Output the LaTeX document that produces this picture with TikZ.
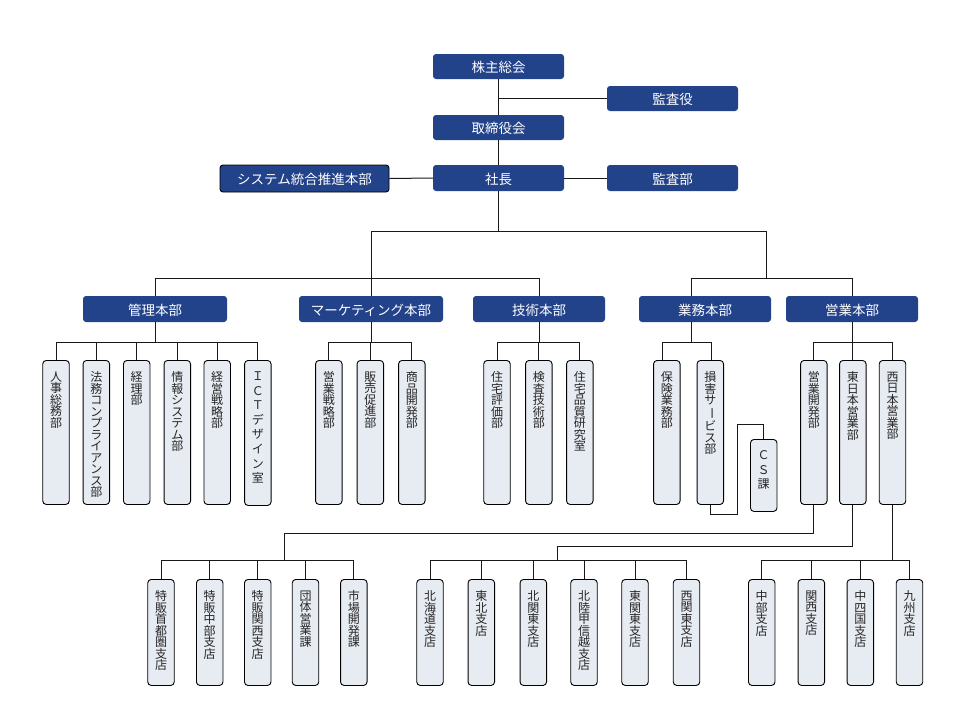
\documentclass[tikz,border=0pt]{standalone}
\usepackage{fontspec}
\usepackage{graphicx}
\setmainfont{Noto Sans CJK JP}
\definecolor{navy}{RGB}{34,66,138}
\definecolor{pale}{RGB}{231,235,242}
\newcommand\vbar{\rotatebox[origin=c]{-90}{ー}}
\newcommand\mkunit[6][]{%
  \node[sb,minimum height=#5] (#2) at (#3,#4) {};
  \node[vt,#1] (#2t) at ([yshift=-11.5pt]#2.north) {#6};}
\begin{document}
\begin{tikzpicture}[x=1pt,y=-1pt,
  hd/.style={rectangle,rounded corners=3pt,fill=navy,text=white,inner sep=0pt,
    text height=12pt,text depth=0pt,font=\fontsize{13.5}{15}\selectfont},
  sb/.style={rectangle,rounded corners=3.5pt,fill=pale,draw=black,line width=0.9pt,
    minimum width=26.5pt,inner sep=0pt,anchor=north},
  vt/.style={anchor=north,inner sep=0pt,align=center,text=black!85,
    font=\fontsize{12}{11.5}\selectfont},
  ln/.style={draw=black!90,line width=1pt}]
\useasboundingbox (0,0) rectangle (960,720);

% top level
\node[hd,minimum width=131,minimum height=25] (kabu) at (498.5,66.5) {株主総会};
\node[hd,minimum width=131,minimum height=25] (kansayaku) at (672.5,98.5) {監査役};
\node[hd,minimum width=131,minimum height=25] (tori) at (498.5,127.5) {取締役会};
\node[hd,minimum width=131,minimum height=26] (shacho) at (498.5,178) {社長};
\node[hd,draw=black,line width=0.9pt,minimum width=169,minimum height=27] (sys) at (304.5,178.5) {システム統合推進本部};
\node[hd,minimum width=131,minimum height=26] (kansabu) at (672.5,178) {監査部};

% divisions
\node[hd,minimum width=144,minimum height=26] (kanri) at (155,309) {管理本部};
\node[hd,minimum width=144,minimum height=26] (mkt) at (371,309) {マーケティング本部};
\node[hd,minimum width=132,minimum height=26] (gijutsu) at (539,309) {技術本部};
\node[hd,minimum width=132,minimum height=26] (gyomu) at (705,309) {業務本部};
\node[hd,minimum width=132,minimum height=26] (eigyo) at (852,309) {営業本部};

% departments
\mkunit{a1}{56}{360}{144}{人\\事\\総\\務\\部}
\mkunit{a2}{96.3}{360}{144}{法\\務\\コ\\ン\\プ\\ラ\\イ\\ア\\ン\\ス\\部}
\mkunit{a3}{136.7}{360}{144}{経\\理\\部}
\mkunit{a4}{177.3}{360}{144}{情\\報\\シ\\ス\\テ\\ム\\部}
\mkunit{a5}{217.2}{360}{144}{経\\営\\戦\\略\\部}
\mkunit[font=\fontsize{12}{14.6}\selectfont]{a6}{257.8}{360}{145}{Ｉ\\Ｃ\\Ｔ\\デ\\ザ\\イ\\ン\\室}
\mkunit{m1}{328.8}{360}{144}{営\\業\\戦\\略\\部}
\mkunit{m2}{370.3}{360}{144}{販\\売\\促\\進\\部}
\mkunit{m3}{411.8}{360}{144}{商\\品\\開\\発\\部}
\mkunit{g1}{497}{360}{144}{住\\宅\\評\\価\\部}
\mkunit{g2}{538.8}{360}{144}{検\\査\\技\\術\\部}
\mkunit{g3}{579.8}{360}{144}{住\\宅\\品\\質\\研\\究\\室}
\mkunit{y1}{666.8}{360}{144}{保\\険\\業\\務\\部}
\mkunit{y2}{710.3}{360}{144}{損\\害\\サ\\\vbar\\ビ\\ス\\部}
\mkunit[font=\fontsize{12}{14.6}\selectfont]{cs}{763.7}{439}{72}{Ｃ\\Ｓ\\課}
\mkunit{e1}{813.8}{360}{144}{営\\業\\開\\発\\部}
\mkunit{e2}{852.8}{360}{144}{東\\日\\本\\営\\業\\部}
\mkunit{e3}{892.5}{360}{144}{西\\日\\本\\営\\業\\部}

% branches
\mkunit{b1}{161}{579}{106}{特\\販\\首\\都\\圏\\支\\店}
\mkunit{b2}{209.7}{579}{106}{特\\販\\中\\部\\支\\店}
\mkunit{b3}{257.7}{579}{106}{特\\販\\関\\西\\支\\店}
\mkunit{b4}{305.5}{579}{106}{団\\体\\営\\業\\課}
\mkunit{b5}{353.8}{579}{106}{市\\場\\開\\発\\課}
\mkunit{c1}{430}{579}{106}{北\\海\\道\\支\\店}
\mkunit{c2}{481.3}{579}{106}{東\\北\\支\\店}
\mkunit{c3}{533.3}{579}{106}{北\\関\\東\\支\\店}
\mkunit{c4}{584}{579}{106}{北\\陸\\甲\\信\\越\\支\\店}
\mkunit{c5}{635}{579}{106}{東\\関\\東\\支\\店}
\mkunit{c6}{686.5}{579}{106}{西\\関\\東\\支\\店}
\mkunit{d1}{761.7}{579}{106}{中\\部\\支\\店}
\mkunit{d2}{811.3}{579}{106}{関\\西\\支\\店}
\mkunit{d3}{860.3}{579}{106}{中\\四\\国\\支\\店}
\mkunit{d4}{909.5}{579}{106}{九\\州\\支\\店}

% connectors: top
\draw[ln] (kabu.south) -- (tori.north);
\draw[ln] (kansayaku.west) -- (kansayaku.west -| kabu.south);
\draw[ln] (tori.south) -- (shacho.north);
\draw[ln] (shacho.west) -- (sys.east);
\draw[ln] (shacho.east) -- (kansabu.west);
\coordinate (hL) at (371,278);
\coordinate (hR) at (766,278);
\draw[ln] (shacho.south) -- ++(0,40) -| (hL);
\draw[ln] (shacho.south) -- ++(0,40) -| (hR);
\draw[ln] (hL) -| (kanri.north);
\draw[ln] (hL) -- (mkt.north);
\draw[ln] (hL) -| (gijutsu.north);
\draw[ln] (hR) -| ([xshift=-14pt]gyomu.north);
\draw[ln] (hR) -| (eigyo.north);

% connectors: divisions to departments
\foreach \c in {a1,a2,a3,a4,a5,a6} \draw[ln] (kanri.south) -- ++(0,20) -| (\c.north);
\foreach \c in {m1,m2,m3} \draw[ln] (mkt.south) -- ++(0,20) -| (\c.north);
\foreach \c in {g1,g2,g3} \draw[ln] (gijutsu.south) -- ++(0,20) -| (\c.north);
\draw[ln] ([xshift=-14pt]gyomu.south) -- ++(0,20) -| ([xshift=-4.8pt]y1.north);
\draw[ln] ([xshift=-14pt]gyomu.south) -- ++(0,20) -| ([xshift=1pt]y2.north);
\foreach \c in {e1,e2,e3} \draw[ln] (eigyo.south) -- ++(0,20) -| (\c.north);
\coordinate (csc) at (737,424);
\draw[ln] (y2.south) -- ++(0,10) -| (csc) -| (cs.north);

% connectors: departments to branches
\coordinate (k1) at (284.5,560);
\coordinate (k2) at (557,560);
\coordinate (k3) at (892.5,560);
\draw[ln] (e1.south) -- ++(0,29) -| (k1);
\draw[ln] (e2.south) -- ++(0,42) -| (k2);
\draw[ln] (e3.south) -- (k3);
\foreach \c in {b1,b2,b3,b4,b5} \draw[ln] (k1) -| (\c.north);
\foreach \c in {c1,c2,c3,c4,c5,c6} \draw[ln] (k2) -| (\c.north);
\foreach \c in {d1,d2,d3,d4} \draw[ln] (k3) -| (\c.north);
\end{tikzpicture}
\end{document}
